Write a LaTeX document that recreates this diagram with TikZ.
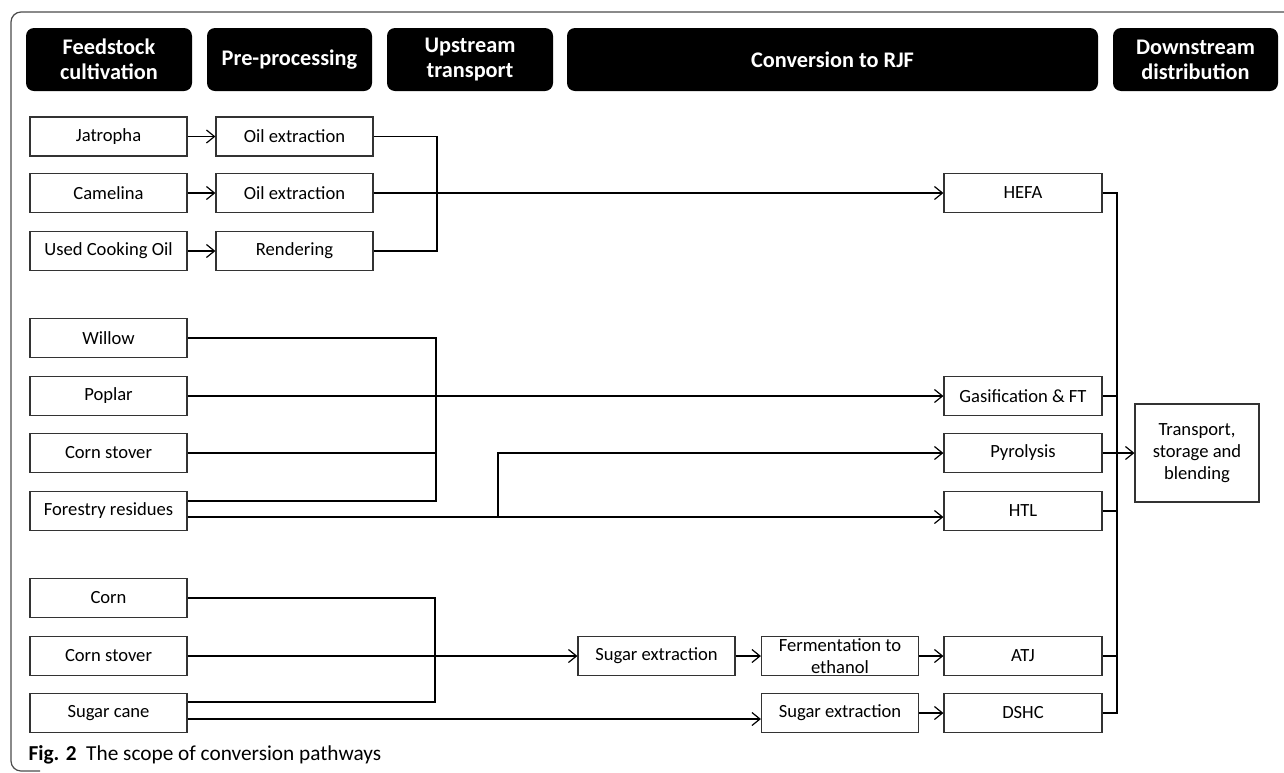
\documentclass[tikz,border=0pt]{standalone}
\usepackage{fontspec}
\setmainfont{Carlito}
\usetikzlibrary{arrows.meta}

\begin{document}
\begin{tikzpicture}[x=1pt, y=-1pt, >={Straight Barb[length=8pt,width=13pt]}, line width=1.2pt]
    \useasboundingbox (0,0) rectangle (1284,772);

    % Define styles
    \tikzstyle{head}=[rectangle, rounded corners=8pt, fill=black, text=white, font=\fontsize{22.3}{25}\selectfont\bfseries, align=center, minimum height=63pt, inner sep=0pt]
    \tikzstyle{box}=[rectangle, draw=black!80, fill=white, font=\fontsize{18.6}{21}\selectfont, align=center, minimum width=157pt, minimum height=39pt, inner sep=0pt]

    % Frame
    \draw[black!70, rounded corners=10pt] (1300,12) -- (11,12) -- (11,771) -- (40,771);

    % Stage headers
    \node[head, minimum width=166pt] (hfeed) at (109,59.5) {Feedstock\\cultivation};
    \node[head, minimum width=165pt] (hpre) at (289.5,59.5) {Pre-processing};
    \node[head, minimum width=166pt] (hup) at (470,59.5) {Upstream\\transport};
    \node[head, minimum width=531pt] (hconv) at (832.5,59.5) {Conversion to RJF};
    \node[head, minimum width=165pt] (hdown) at (1195.5,59.5) {Downstream\\distribution};

    % Oil crops
    \node[box] (jat) at (108.5,136.5) {Jatropha};
    \node[box] (cam) at (108.5,193) {Camelina};
    \node[box] (uco) at (108.5,251) {Used Cooking Oil};
    \node[box] (oil1) at (294.5,136.5) {Oil extraction};
    \node[box] (oil2) at (294.5,193) {Oil extraction};
    \node[box] (rend) at (294.5,251) {Rendering};

    % Lignocellulosic crops
    \node[box] (willow) at (108.5,338) {Willow};
    \node[box] (poplar) at (108.5,396) {Poplar};
    \node[box] (stov1) at (108.5,453) {Corn stover};
    \node[box] (fores) at (108.5,511) {Forestry residues};

    % Sugar and starch crops
    \node[box] (corn) at (108.5,598) {Corn};
    \node[box] (stov2) at (108.5,656) {Corn stover};
    \node[box] (cane) at (108.5,713) {Sugar cane};
    \node[box] (sug1) at (656.5,656) {Sugar extraction};
    \node[box, font=\fontsize{18.6}{22}\selectfont] (ferm) at (840,656) {Fermentation to\\ethanol};
    \node[box] (sug2) at (840,713) {Sugar extraction};

    % Conversion
    \node[box, minimum width=158pt] (hefa) at (1023,193) {HEFA};
    \node[box, minimum width=158pt] (gasif) at (1023,396) {Gasification \& FT};
    \node[box, minimum width=158pt] (pyro) at (1023,453) {Pyrolysis};
    \node[box, minimum width=158pt] (htl) at (1023,511) {HTL};
    \node[box, minimum width=158pt] (atj) at (1023,656) {ATJ};
    \node[box, minimum width=158pt] (dshc) at (1023,713) {DSHC};
    \node[box, minimum width=124pt, minimum height=98pt, font=\fontsize{18.6}{22}\selectfont] (trans) at (1197,453) {Transport,\\storage and\\blending};

    % Junctions
    \coordinate (bus1) at (437,193);
    \coordinate (bus2) at (436,396);
    \coordinate (split) at (498,517);
    \coordinate (bus3) at (435,656);
    \coordinate (bus4) at (1117,453);

    \draw[->] (jat) -- (oil1);
    \draw[->] (cam) -- (oil2);
    \draw[->] (uco) -- (rend);
    \draw (oil1) -| (bus1);
    \draw (rend) -| (bus1);
    \draw[->] (oil2) -- (hefa);

    \draw (willow) -| (bus2);
    \draw (stov1) -| (bus2);
    \draw ([yshift=10pt]fores.east) -| (bus2);
    \draw[->] (poplar) -- (gasif);
    \draw[->] ([yshift=-6pt]fores.east) -- ([yshift=-6pt]htl.west);
    \draw[->] (split) |- (pyro);

    \draw (corn) -| (bus3);
    \draw ([yshift=11pt]cane.east) -| (bus3);
    \draw[->] (stov2) -- (sug1);
    \draw[->] ([yshift=-6pt]cane.east) -- ([yshift=-6pt]sug2.west);
    \draw[->] (sug1) -- (ferm);
    \draw[->] (ferm) -- (atj);
    \draw[->] (sug2) -- (dshc);

    \draw (hefa) -| (bus4);
    \draw (gasif) -| (bus4);
    \draw (htl) -| (bus4);
    \draw (atj) -| (bus4);
    \draw (dshc) -| (bus4);
    \draw[->] (pyro) -- (trans);

    % Caption
    \node[anchor=base west, inner sep=0pt, font=\fontsize{21.3}{24}\selectfont] (cap) at (28,760) {\textbf{Fig. 2}\ \ The scope of conversion pathways};
\end{tikzpicture}
\end{document}
